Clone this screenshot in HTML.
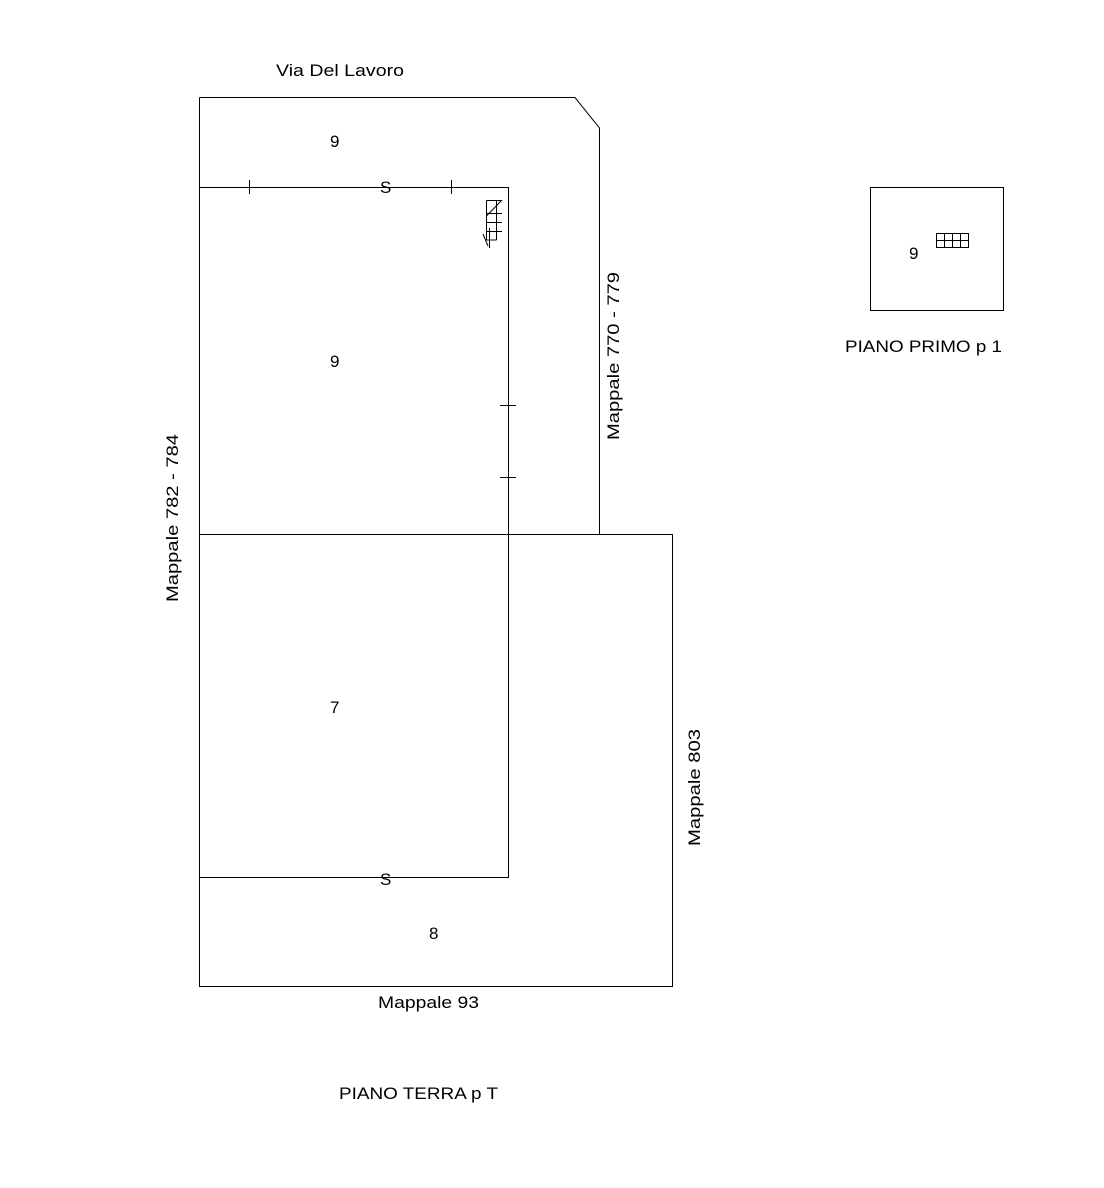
<!DOCTYPE html>
<html><head><style>body{margin:0;background:#fff}svg{display:block}text{font-family:"Liberation Sans",sans-serif;font-size:17px;fill:#000}</style></head>
<body>
<svg width="1104" height="1188" viewBox="0 0 1104 1188" xmlns="http://www.w3.org/2000/svg">
<g fill="none" stroke="#000" stroke-width="1">
<path d="M199.5,97.5 H575 L599.5,128 V534"/>
<path d="M199.5,97.5 V986.5 H672.5 V534.5 H199.5"/>
<path d="M199.5,187.5 H508.5 V877.5 H199.5"/>
<path d="M249.5,180 V194 M451.5,180 V194"/>
<path d="M500,405.5 H516 M500,477.5 H516"/>
<path d="M486.5,200.5 H501.5 L486.5,216 M486.5,200.5 V240 M496.5,200.5 V240 M486.5,213.5 H502 M486.5,222.5 H502 M486.5,231.5 H502 M486.5,240 H496.5 M489.5,228 V248 M483,234 L488,246"/>
<rect x="870.5" y="187.5" width="133" height="123"/>
<path d="M936.5,233.5 H968.5 V247.5 H936.5 Z M936.5,240.5 H968.5 M944.5,233.5 V247.5 M952.5,233.5 V247.5 M960.5,233.5 V247.5"/>
</g>
<text x="276" y="76" textLength="128" lengthAdjust="spacingAndGlyphs">Via Del Lavoro</text>
<text x="330" y="147">9</text>
<text x="380" y="193">S</text>
<text x="330" y="367">9</text>
<text x="330" y="713">7</text>
<text x="380" y="885">S</text>
<text x="429" y="939">8</text>
<text x="378" y="1008" textLength="101" lengthAdjust="spacingAndGlyphs">Mappale 93</text>
<text x="339" y="1099" textLength="159" lengthAdjust="spacingAndGlyphs">PIANO TERRA p T</text>
<text x="909" y="259">9</text>
<text x="845" y="352" textLength="157" lengthAdjust="spacingAndGlyphs">PIANO PRIMO p 1</text>
<text transform="translate(178,602) rotate(-90)" textLength="168" lengthAdjust="spacingAndGlyphs">Mappale 782 - 784</text>
<text transform="translate(619,440) rotate(-90)" textLength="168" lengthAdjust="spacingAndGlyphs">Mappale 770 - 779</text>
<text transform="translate(700,846) rotate(-90)" textLength="117" lengthAdjust="spacingAndGlyphs">Mappale 803</text>
</svg>
</body></html>
